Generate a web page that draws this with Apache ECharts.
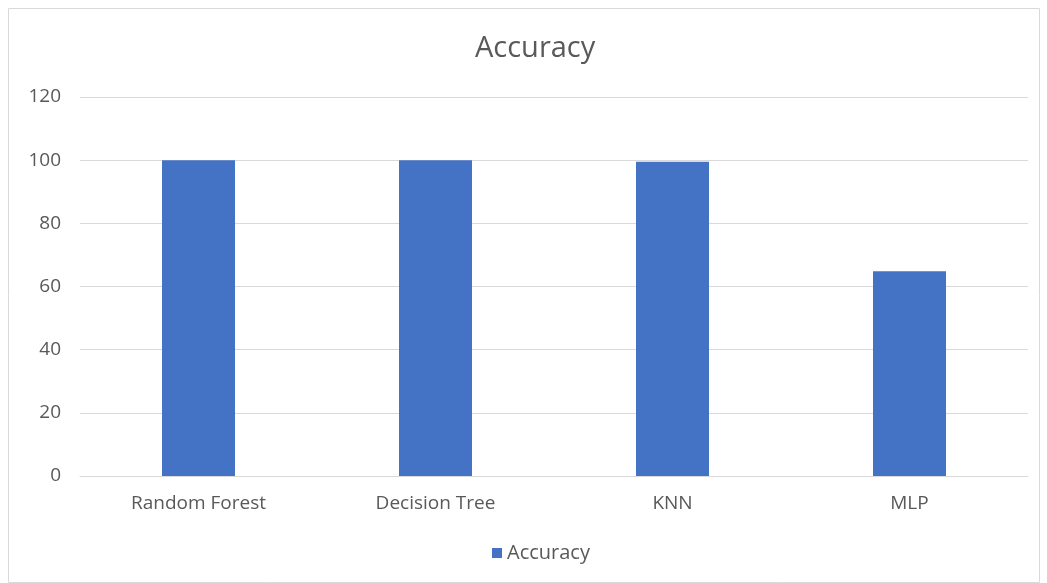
<!DOCTYPE html>
<html><head><meta charset="utf-8">
<script src="https://cdn.jsdelivr.net/npm/echarts@6/dist/echarts.min.js"></script>
<style>html,body{margin:0;padding:0;background:#fff}#c{width:1047px;height:583px}</style>
</head><body><div id="c"></div>
<script>
const categories = ['Random Forest', 'Decision Tree', 'KNN', 'MLP'];
const accuracy = [100, 100, 99.5, 64.8];
const yTicks = [0, 20, 40, 60, 80, 100, 120];
const chart = echarts.init(document.getElementById('c'));
const font = 'Open Sans, Liberation Sans, sans-serif';
chart.setOption({
  animation: false,
  graphic: [{type:'rect', shape:{x:8.5,y:8.5,width:1031,height:574}, style:{fill:'none', stroke:'#d9d9d9', lineWidth:1}, silent:true}],
  title: {text:'Accuracy', left:470, top:29, textStyle:{fontFamily:font, fontSize:29, fontWeight:'normal', color:'#595959'}},
  legend: {top:538, left:487, itemWidth:10, itemHeight:10, itemGap:7, icon:'rect',
    textStyle:{fontFamily:font, fontSize:20, color:'#595959'}},
  grid: {left:80, right:19, top:97, bottom:107},
  xAxis: {type:'category', data:categories,
    axisLine:{lineStyle:{color:'#d9d9d9', width:1}}, axisTick:{show:false},
    axisLabel:{fontFamily:font, fontSize:19, color:'#595959', margin:18}},
  yAxis: {type:'value', min:yTicks[0], max:yTicks[yTicks.length-1], interval:20,
    axisLine:{show:false}, axisTick:{show:false},
    splitLine:{lineStyle:{color:'#d9d9d9', width:1}},
    axisLabel:{fontFamily:font, fontSize:19, color:'#595959', margin:19}},
  series: [{name:'Accuracy', type:'bar', data:accuracy, barWidth:73, itemStyle:{color:'#4472c4'}}]
});
</script></body></html>
